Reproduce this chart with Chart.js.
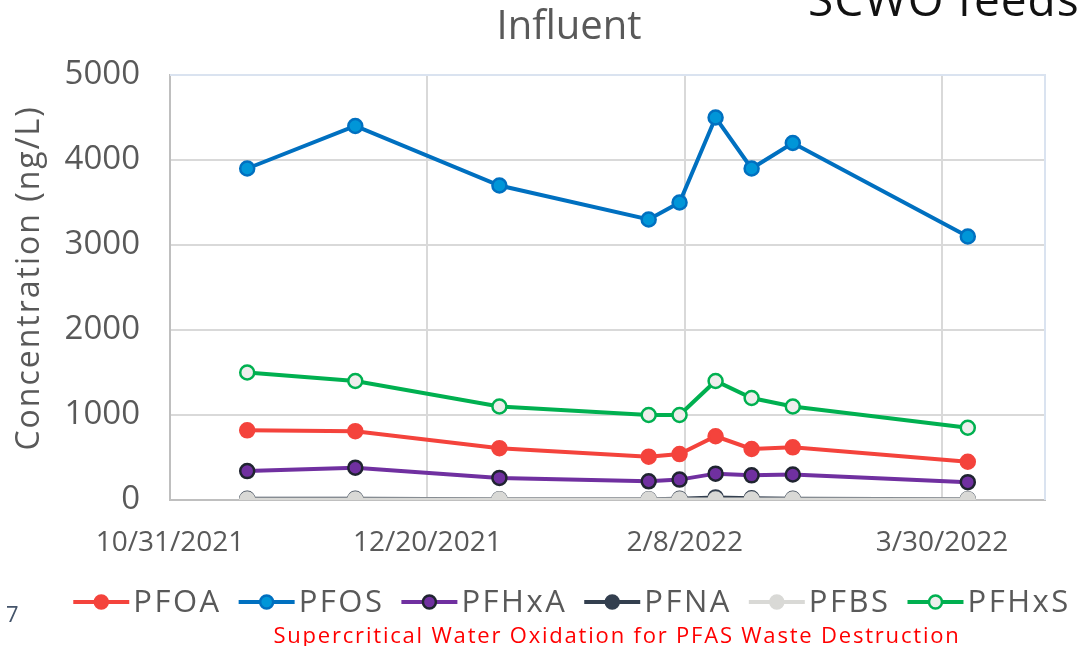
<!DOCTYPE html>
<html>
<head>
<meta charset="utf-8">
<script src="https://cdn.jsdelivr.net/npm/chart.js@4.4.1/dist/chart.umd.min.js"></script>
<style>
  body { margin: 0; background: #fff; overflow: hidden; font-family: "Open Sans", sans-serif; }
  #wrap { position: relative; width: 1079px; height: 646px; overflow: hidden; }
  #chart { position: absolute; left: 0; top: 0; }
  .txt { position: absolute; white-space: nowrap; }
  #title { left: 569px; top: -4px; transform: translateX(-50%); font-size: 40px; color: #595959; }
  #corner { left: 808px; top: -33px; font-size: 46px; color: #111; letter-spacing: 1px; }
  #page { left: 6px; top: 598px; font-size: 22px; color: #44546a; }
  #footer { left: 617px; top: 619px; transform: translateX(-50%); font-size: 22px; color: #ff0000; letter-spacing: 1.8px; }
</style>
</head>
<body>
<div id="wrap">
  <canvas id="chart" width="1079" height="646"></canvas>
  <div id="corner" class="txt">SCWO feeds</div>
  <div id="title" class="txt">Influent</div>
  <div id="page" class="txt">7</div>
  <div id="footer" class="txt">Supercritical Water Oxidation for PFAS Waste Destruction</div>
</div>
<script>
// sample dates
const sampleDates = ['2021-11-15', '2021-12-06', '2022-01-03', '2022-02-01', '2022-02-07',
                     '2022-02-14', '2022-02-21', '2022-03-01', '2022-04-04'];

// concentrations, ng/L
const pfoa  = [820, 810, 610, 510, 540, 750, 600, 620, 450];
const pfos  = [3900, 4400, 3700, 3300, 3500, 4500, 3900, 4200, 3100];
const pfhxa = [340, 380, 260, 220, 240, 310, 290, 300, 210];
const pfna  = [15, 15, 10, 10, 15, 30, 20, 15, 10];
const pfbs  = [5, 5, 5, 5, 5, 5, 5, 5, 5];
const pfhxs = [1500, 1400, 1100, 1000, 1000, 1400, 1200, 1100, 850];

const seriesNames = ['PFOA', 'PFOS', 'PFHxA', 'PFNA', 'PFBS', 'PFHxS'];

// x axis: days from 10/31/2021, ticks every 50 days
const axisStart = new Date(2021, 9, 31);
const axisMinDay = 0;
const axisMaxDay = 170;
const axisStepDays = 50;

const DAY = 24 * 3600 * 1000;
function dayOffset(s) {
  const p = s.split('-').map(Number);
  return Math.round((new Date(p[0], p[1] - 1, p[2]) - axisStart) / DAY);
}
function fmtDay(v) {
  const d = new Date(axisStart.getTime() + v * DAY + 12 * 3600 * 1000);
  return (d.getMonth() + 1) + '/' + d.getDate() + '/' + d.getFullYear();
}

const xs = sampleDates.map(dayOffset);
const pts = vals => vals.map((v, i) => ({ x: xs[i], y: v }));

const styles = [
  { line: '#f4433c', fill: '#f4433c', edge: '#f4433c' },
  { line: '#0070c0', fill: '#0096d8', edge: '#0070c0' },
  { line: '#7030a0', fill: '#7030a0', edge: '#1f2430' },
  { line: '#333f4f', fill: '#333f4f', edge: '#333f4f' },
  { line: '#d9d9d6', fill: '#d9d9d6', edge: '#d9d9d6' },
  { line: '#00b050', fill: '#eeeeec', edge: '#00b050' }
];
const seriesValues = [pfoa, pfos, pfhxa, pfna, pfbs, pfhxs];

const datasets = seriesNames.map((name, i) => ({
  label: name,
  data: pts(seriesValues[i]),
  borderColor: styles[i].line,
  backgroundColor: styles[i].fill,
  pointBackgroundColor: styles[i].fill,
  pointBorderColor: styles[i].edge,
  pointBorderWidth: 2.5,
  pointRadius: 7,
  borderWidth: 4,
  tension: 0,
  order: 6 - i
}));

const font = '"Open Sans", sans-serif';

const frame = {
  id: 'frame',
  beforeDatasetsDraw(chart) {
    const a = chart.chartArea, c = chart.ctx;
    c.save();
    c.strokeStyle = '#dae3f0';
    c.lineWidth = 2;
    c.beginPath();
    c.moveTo(a.left, a.top);
    c.lineTo(a.right, a.top);
    c.lineTo(a.right, a.bottom);
    c.stroke();
    c.restore();
  }
};

// y axis title, drawn by hand so it can be spaced out
const yTitle = {
  id: 'yTitle',
  afterDraw(chart) {
    const c = chart.ctx;
    c.save();
    c.font = '32px ' + font;
    c.letterSpacing = '2px';
    c.fillStyle = '#595959';
    c.textAlign = 'center';
    c.textBaseline = 'middle';
    c.translate(30, 278);
    c.rotate(-Math.PI / 2);
    c.fillText('Concentration (ng/L)', 0, 0);
    c.restore();
  }
};

const lineLegend = {
  id: 'lineLegend',
  afterDraw(chart) {
    const c = chart.ctx;
    c.save();
    c.font = '31px ' + font;
    c.letterSpacing = '2.5px';
    c.textBaseline = 'middle';
    const lineW = 56, gapA = 4, gapB = 17;
    const items = chart.data.datasets.map(ds => ({ ds, w: c.measureText(ds.label).width }));
    const total = items.reduce((s, it) => s + lineW + gapA + it.w + gapB, 0) - gapB;
    let x = 572 - total / 2;
    const y = 602;
    items.forEach(it => {
      const ds = it.ds;
      c.strokeStyle = ds.borderColor;
      c.lineWidth = 4;
      c.beginPath();
      c.moveTo(x, y);
      c.lineTo(x + lineW, y);
      c.stroke();
      c.beginPath();
      c.arc(x + lineW / 2, y, 6.5, 0, Math.PI * 2);
      c.fillStyle = ds.pointBackgroundColor;
      c.fill();
      c.lineWidth = 2.5;
      c.strokeStyle = ds.pointBorderColor;
      c.stroke();
      c.fillStyle = '#595959';
      c.fillText(ds.label, x + lineW + gapA, y + 1);
      x += lineW + gapA + it.w + gapB;
    });
    c.restore();
  }
};

new Chart(document.getElementById('chart'), {
  type: 'line',
  data: { datasets },
  options: {
    responsive: false,
    animation: false,
    layout: { padding: { top: 75, right: 34, bottom: 86, left: 0 } },
    plugins: { legend: { display: false }, tooltip: { enabled: false } },
    scales: {
      x: {
        type: 'linear',
        min: axisMinDay,
        max: axisMaxDay,
        afterBuildTicks: s => { s.ticks = s.ticks.filter(t => t.value % axisStepDays === 0); },
        afterFit: s => { s.height = 60; },
        ticks: {
          stepSize: axisStepDays,
          callback: v => fmtDay(v),
          color: '#595959',
          font: { family: font, size: 28 },
          padding: 26,
          maxRotation: 0
        },
        grid: { color: '#d9d9d9', lineWidth: 2, drawTicks: false },
        border: { color: '#bfbfbf', width: 2 }
      },
      y: {
        min: 0,
        max: 5000,
        afterFit: s => { s.width = 170; },
        ticks: {
          stepSize: 1000,
          callback: v => String(v),
          color: '#595959',
          font: { family: font, size: 33 },
          padding: 30
        },
        grid: {
          color: ctx => ctx.tick && ctx.tick.value === 5000 ? '#dae3f0' : '#d9d9d9',
          lineWidth: 2,
          drawTicks: false
        },
        border: { color: '#bfbfbf', width: 2 }
      }
    }
  },
  plugins: [frame, yTitle, lineLegend]
});
</script>
</body>
</html>
